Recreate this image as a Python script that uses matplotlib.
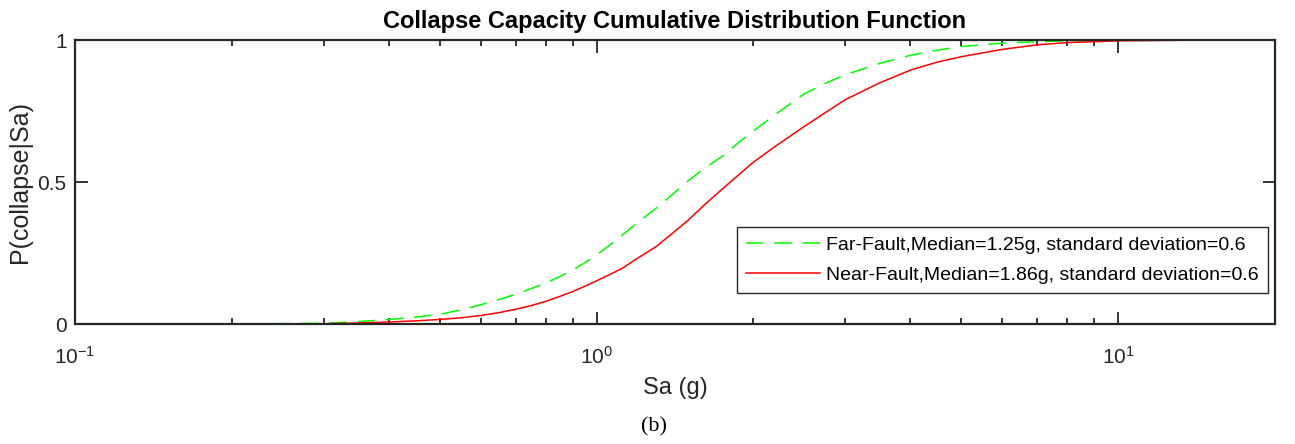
import matplotlib
matplotlib.use("Agg")
import matplotlib.pyplot as plt
from matplotlib.ticker import LogLocator, NullFormatter

# ---- data ----
sa = [0.1, 0.2, 0.28, 0.3, 0.34, 0.4, 0.45, 0.5, 0.55, 0.6, 0.65, 0.7, 0.75, 0.8, 0.85,
      0.9, 0.95, 1.0, 1.06, 1.12, 1.2, 1.3, 1.4, 1.5, 1.62, 1.75, 1.88, 2.0, 2.2, 2.5,
      2.75, 3.0, 3.5, 4.0, 4.5, 5.0, 6.0, 7.0, 8.0, 10.0, 15.0, 20.0]
far_fault = [0.0, 0.0, 0.002, 0.003, 0.007, 0.016, 0.024, 0.034, 0.05, 0.068, 0.086,
             0.105, 0.125, 0.145, 0.167, 0.19, 0.216, 0.243, 0.278, 0.313, 0.358, 0.407,
             0.457, 0.505, 0.552, 0.593, 0.642, 0.68, 0.737, 0.81, 0.848, 0.878, 0.918,
             0.946, 0.964, 0.977, 0.989, 0.994, 0.997, 0.999, 1.0, 1.0]
near_fault = [0.0, 0.0, 0.0005, 0.001, 0.003, 0.007, 0.011, 0.016, 0.022, 0.03, 0.04,
              0.052, 0.065, 0.08, 0.097, 0.114, 0.133, 0.152, 0.174, 0.196, 0.232, 0.272,
              0.32, 0.366, 0.424, 0.478, 0.528, 0.57, 0.625, 0.695, 0.745, 0.79, 0.85,
              0.894, 0.922, 0.941, 0.967, 0.983, 0.991, 0.997, 1.0, 1.0]
labels = ["Far-Fault,Median=1.25g, standard deviation=0.6",
          "Near-Fault,Median=1.86g, standard deviation=0.6"]
y_ticks = [0, 0.5, 1]
y_ticklabels = ["0", "0.5", "1"]

plt.rcParams['font.family'] = ['Liberation Sans', 'DejaVu Sans']
plt.rcParams['mathtext.fontset'] = 'custom'
plt.rcParams['mathtext.rm'] = 'Liberation Sans'
plt.rcParams['mathtext.default'] = 'regular'

fig = plt.figure(figsize=(12.95, 4.44), dpi=100)
ax = fig.add_axes([75/1295, 1-324/444, 1200/1295, 284/444])

ax.plot(sa, far_fault, color='#00ff00', lw=1.1, linestyle=(0, (11.5, 7)), label=labels[0])
ax.plot(sa, near_fault, color='#ff0000', lw=1.1, label=labels[1])

ax.set_xscale('log')
ax.set_xlim(0.1, 20)
ax.set_ylim(0, 1)
ax.set_yticks(y_ticks)
ax.set_yticklabels(y_ticklabels)
ax.xaxis.set_major_locator(LogLocator(base=10, numticks=10))
ax.xaxis.set_minor_locator(LogLocator(base=10, subs=range(2, 10), numticks=20))
ax.xaxis.set_minor_formatter(NullFormatter())

ax.tick_params(axis='both', which='major', direction='in', length=9, width=1.3,
               top=True, right=True, labelsize=15, colors='#262626')
ax.tick_params(axis='x', which='minor', direction='in', length=4.5, width=1.3,
               top=True, colors='#262626')
ax.tick_params(axis='x', which='major', pad=15.5)
ax.tick_params(axis='y', which='major', pad=6)
for s in ax.spines.values():
    s.set_linewidth(1.6)
    s.set_color('#262626')

ax.set_title("Collapse Capacity Cumulative Distribution Function", fontsize=17,
             fontweight='bold', pad=8.5)
ax.set_xlabel("Sa (g)", fontsize=17, color='#262626', labelpad=7)
ax.set_ylabel("P(collapse|Sa)", fontsize=18, color='#262626', labelpad=4)

leg = ax.legend(loc='lower right', bbox_to_anchor=(0.9945, 0.108), fontsize=14,
                frameon=True, fancybox=False, framealpha=1, edgecolor='#262626',
                handlelength=3.8, handletextpad=0.3, borderpad=0.5, labelspacing=0.62,
                borderaxespad=0)
leg.get_frame().set_linewidth(1.0)

fig.text(654/1295, 1-427/444, "(b)", fontsize=16, family='Liberation Serif',
         ha='center', va='center')

fig.savefig("out.png", dpi=100, facecolor='white')
